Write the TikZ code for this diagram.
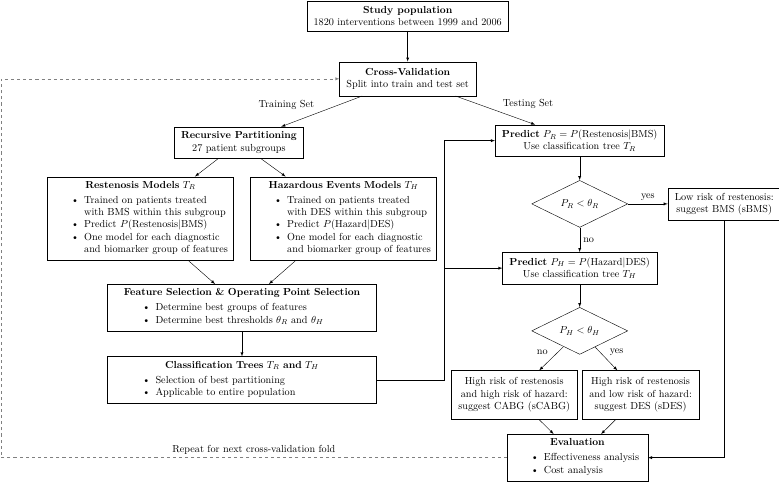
\documentclass[tikz,border=0pt]{standalone}
\usetikzlibrary{shapes,arrows,positioning,calc}
\newcommand{\boxhead}[1]{{\centering\textbf{#1}\par}}
\newcommand{\bullist}[2]{\vspace{2.7pt}\noindent\hspace*{#1}%
  \begin{tabular}[t]{@{}c@{\hspace{5pt}}l@{}}#2\end{tabular}}

\begin{document}
\begin{tikzpicture}[>=latex,
    box/.style={draw, align=center, inner xsep=6.7pt, inner ysep=5pt},
    listbox/.style={box, text width=#1, align=left, inner ysep=4.3pt},
    advice/.style={box, minimum height=47.4pt},
    decision/.style={draw, diamond, aspect=2, minimum width=94pt, minimum height=46pt, inner sep=1pt},
    repeatline/.style={->, dashed, gray}]

  \useasboundingbox (-399.1pt,15.5pt) rectangle (363.5pt,-459.3pt);

  % training side
  \node[box] (study) {\textbf{Study population}\\1820 interventions between 1999 and 2006};
  \node[box, minimum height=33.3pt, below=30pt of study] (cv) {\textbf{Cross-Validation}\\Split into train and test set};
  \node[box, below=30pt of cv, xshift=-165.2pt] (rp) {\textbf{Recursive Partitioning}\\27 patient subgroups};
  \node[listbox=169pt, below=17.5pt of rp, xshift=-96.4pt] (resten) {\boxhead{Restenosis Models $T_R$}
    \bullist{16.6pt}{\textbullet & Trained on patients treated\\
      & with BMS within this subgroup\\
      \textbullet & Predict $P(\mathrm{Restenosis}|\mathrm{BMS})$\\
      \textbullet & One model for each diagnostic\\
      & and biomarker group of features}};
  \node[listbox=169pt, right=16pt of resten] (hazard) {\boxhead{Hazardous Events Models $T_H$}
    \bullist{16.6pt}{\textbullet & Trained on patients treated\\
      & with DES within this subgroup\\
      \textbullet & Predict $P(\mathrm{Hazard}|\mathrm{DES})$\\
      \textbullet & One model for each diagnostic\\
      & and biomarker group of features}};
  \node[listbox=249.6pt, below=23pt of $(resten.south)!0.5!(hazard.south)$] (feat) {\boxhead{Feature Selection \& Operating Point Selection}
    \bullist{27.4pt}{\textbullet & Determine best groups of features\\
      \textbullet & Determine best thresholds $\theta_R$ and $\theta_H$}};
  \node[listbox=249.6pt, below=24.5pt of feat] (ctree) {\boxhead{Classification Trees $T_R$ and $T_H$}
    \bullist{27.4pt}{\textbullet & Selection of best partitioning\\
      \textbullet & Applicable to entire population}};

  % testing side
  \node[box, below=28pt of cv, xshift=168.4pt] (predr) {\textbf{Predict} $P_R = P(\mathrm{Restenosis}|\mathrm{BMS})$\\Use classification tree $T_R$};
  \node[decision, below=23pt of predr] (decr) {$P_R < \theta_R$};
  \node[box, right=39pt of decr] (lowrisk) {Low risk of restenosis:\\suggest BMS (sBMS)};
  \node[box, below=24pt of decr] (predh) {\textbf{Predict} $P_H = P(\mathrm{Hazard}|\mathrm{DES})$\\Use classification tree $T_H$};
  \node[decision, below=22.5pt of predh] (dech) {$P_H < \theta_H$};
  \node[advice, below left=15.5pt and 2.5pt of dech.south] (cabg) {High risk of restenosis\\and high risk of hazard:\\suggest CABG (sCABG)};
  \node[advice, below right=15.5pt and 2.5pt of dech.south] (des) {High risk of restenosis\\and low risk of hazard:\\suggest DES (sDES)};
  \node[listbox=124.3pt, below=14.5pt of $(cabg.south)!0.5!(des.south)$] (eval) {\boxhead{Evaluation}
    \bullist{16.6pt}{\textbullet & Effectiveness analysis\\
      \textbullet & Cost analysis}};

  \coordinate[right=66.6pt of ctree.east] (junct);
  \coordinate (loopleft) at (-398.2pt,0);

  \draw[->] (study) -- (cv);
  \draw[->] (cv) -- node[pos=0.55, above left] {Training Set} (rp);
  \draw[->] (cv) -- node[pos=0.55, above right] {Testing Set} (predr);
  \draw[->] (rp) -- (resten);
  \draw[->] (rp) -- (hazard);
  \draw[->] (resten) -- (feat);
  \draw[->] (hazard) -- (feat);
  \draw[->] (feat) -- (ctree);
  \draw (ctree.east) -- (junct);
  \draw[->] (junct) |- (predr);
  \draw[->] (junct) |- (predh);
  \draw[->] (predr) -- (decr);
  \draw[->] (decr) -- node[above] {yes} (lowrisk);
  \draw[->] (decr) -- node[right] {no} (predh);
  \draw[->] (predh) -- (dech);
  \draw[->] (dech) -- node[above left] {no} (cabg);
  \draw[->] (dech) -- node[above right] {yes} (des);
  \draw[->] (cabg) -- (eval);
  \draw[->] (des) -- (eval);
  \draw[->] (lowrisk) |- (eval);
  \draw[repeatline] (eval.west) -- node[above, text=black] {Repeat for next cross-validation fold} (eval.west -| loopleft) |- (cv.west);
\end{tikzpicture}
\end{document}
